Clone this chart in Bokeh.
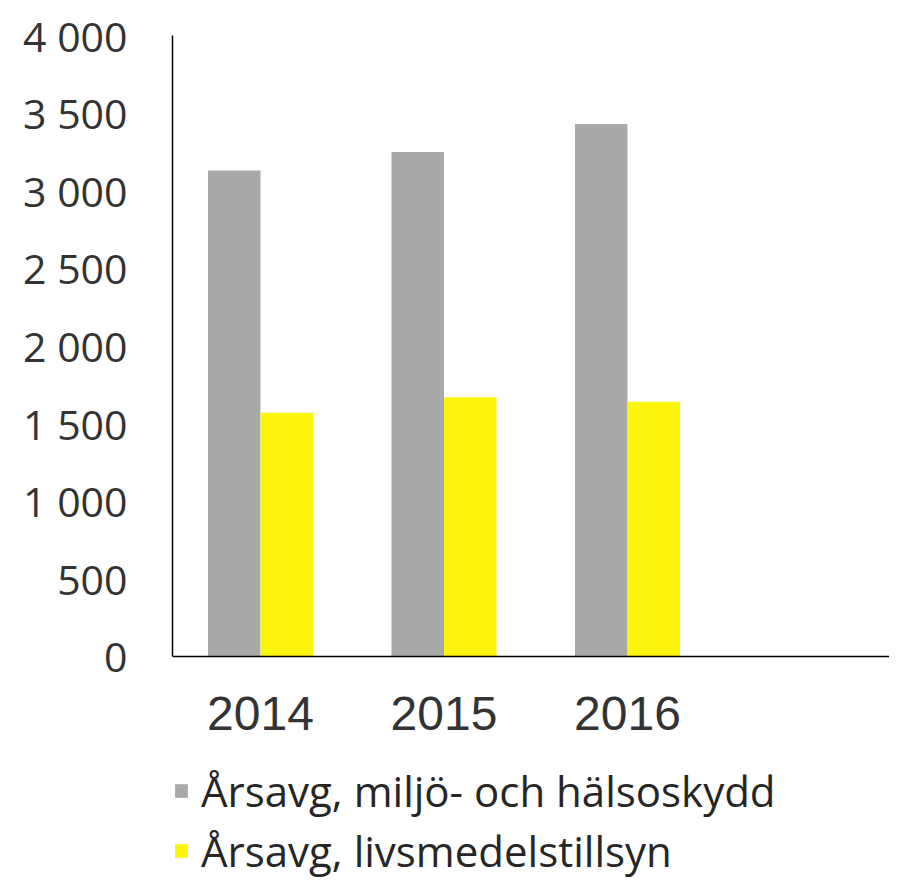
from bokeh.plotting import figure
from bokeh.models import Legend, LegendItem, FixedTicker, Range1d, ColumnDataSource, Span
from bokeh.core.properties import value
from bokeh.transform import dodge
from bokeh.embed import file_html
from bokeh.resources import INLINE

# ---- data ----
years = ["2014", "2015", "2016"]
year_pos = [1, 2, 3]
miljo = [3130, 3250, 3430]
livsmedel = [1570, 1670, 1640]
series_names = ["Årsavg, miljö- och hälsoskydd", "Årsavg, livsmedelstillsyn"]
series_colors = ["#a8aaaa", "#fbf40c"]
y_ticks = [0, 500, 1000, 1500, 2000, 2500, 3000, 3500, 4000]
y_tick_labels = ["0", "500", "1 000", "1 500", "2 000", "2 500", "3 000", "3 500", "4 000"]

source = ColumnDataSource(dict(x=year_pos, year=years, miljo=miljo, livs=livsmedel))

FRAME_LEFT = 172
UNIT = 183.5  # px per category
p = figure(width=889, height=884, output_backend="svg", toolbar_location=None,
           x_axis_location=None,
           x_range=Range1d(1 - (260 - FRAME_LEFT) / UNIT, 1 + (889 - 260) / UNIT),
           y_range=Range1d(-1469, 4000),
           min_border_left=FRAME_LEFT, min_border_top=35, min_border_right=0,
           min_border_bottom=0)
p.outline_line_color = None
p.grid.visible = False

bw = 0.286
r1 = p.vbar(x=dodge("x", -bw / 2), top="miljo", width=bw, source=source,
            fill_color=series_colors[0], line_color=None)
r2 = p.vbar(x=dodge("x", bw / 2), top="livs", width=bw, source=source,
            fill_color=series_colors[1], line_color=None)

# baseline (x axis line)
p.add_layout(Span(location=0, dimension="width", line_color="black", line_width=1.5))

# year labels
p.text(x="x", y=0, text="year", source=source, y_offset=57,
       text_align="center", text_baseline="middle",
       text_font=value("Liberation Sans"), text_font_size="48px",
       text_color="#333333")

# y axis
ya = p.yaxis[0]
ya.bounds = (0, 4000)
ya.ticker = FixedTicker(ticks=y_ticks)
ya.major_label_overrides = {t: l for t, l in zip(y_ticks, y_tick_labels)}
ya.axis_line_color = "black"
ya.axis_line_width = 1.5
ya.major_tick_line_color = None
ya.minor_tick_line_color = None
ya.major_tick_in = 0
ya.major_tick_out = 0
ya.major_label_text_font = "Open Sans"
ya.major_label_text_font_size = "41px"
ya.major_label_text_color = "#333333"
ya.major_label_standoff = 45

legend = Legend(items=[LegendItem(label=series_names[0], renderers=[r1]),
                       LegendItem(label=series_names[1], renderers=[r2])],
                location=(1, 5))
legend.label_text_font = "Open Sans"
legend.label_text_font_size = "42px"
legend.label_text_color = "#262626"
legend.glyph_width = 16
legend.glyph_height = 17
legend.label_standoff = 12
legend.spacing = 3
legend.padding = 0
legend.margin = 0
legend.border_line_color = None
legend.background_fill_alpha = 0
p.add_layout(legend)

open("out.html", "w").write(file_html(p, INLINE))
